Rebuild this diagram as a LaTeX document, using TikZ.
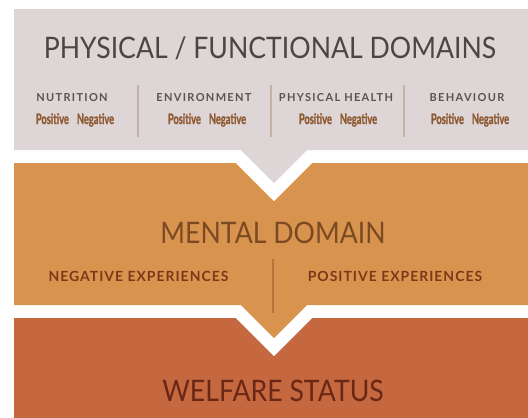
\documentclass[tikz,border=0pt]{standalone}
\usepackage{fontspec}
\usepackage{tikz}

\setmainfont{Lato}[FakeStretch=0.9]
\newfontfamily\capsfont{Lato}[LetterSpace=12]
\newfontfamily\expfont{Lato}[LetterSpace=7]
\newfontfamily\condfont{Lato}[FakeStretch=0.64, FakeBold=1.2]

\definecolor{physgrey}{HTML}{DED6D6}
\definecolor{mentorange}{HTML}{D8944F}
\definecolor{welfred}{HTML}{C5673F}
\definecolor{titlegrey}{HTML}{4D4446}
\definecolor{labelgrey}{HTML}{5A5153}
\definecolor{signbrown}{HTML}{8E5A32}
\definecolor{mentbrown}{HTML}{7B4A22}
\definecolor{expbrown}{HTML}{7A3A1A}
\definecolor{welfbrown}{HTML}{6A2715}
\definecolor{sepgrey}{HTML}{C2B2A2}
\definecolor{sepbrown}{HTML}{B8733A}

\begin{document}
\begin{tikzpicture}[x=1pt, y=-1pt,
		bigtitle/.style={anchor=base, inner sep=0pt, font=\fontsize{29.6}{30}\selectfont},
		domainlabel/.style={anchor=base, inner sep=0pt, font=\capsfont\bfseries\fontsize{11}{11}\selectfont, text=labelgrey},
		signlabel/.style={anchor=base, inner sep=0pt, font=\condfont\bfseries\fontsize{14.5}{14.5}\selectfont, text=signbrown},
		explabel/.style={anchor=base, inner sep=0pt, font=\expfont\bfseries\fontsize{14}{14}\selectfont, text=expbrown}]
			\useasboundingbox (0, 0) rectangle (528, 418);
			\fill[white] (0, 0) rectangle (528, 418);

			\fill[welfred] (14, 318) -- (235.6, 318) -- (274, 356.4) -- (312.4, 318)
			-- (528, 318) -- (528, 418) -- (14, 418) -- cycle;
			\fill[mentorange] (14, 163) -- (235.6, 163) -- (274, 201.4) -- (312.4, 163)
			-- (528, 163) -- (528, 305) -- (307, 305) -- (274, 338) -- (241, 305) -- (14, 305) -- cycle;
			\fill[physgrey] (14, 9) -- (528, 9) -- (528, 150) -- (307, 150) -- (274, 183)
			-- (241, 150) -- (14, 150) -- cycle;

			\node[bigtitle, text=titlegrey] (phys) at (270, 58.3) {PHYSICAL / FUNCTIONAL DOMAINS};

			\node[domainlabel] (nutr) at (72, 101) {NUTRITION};
			\node[domainlabel] (env) at (204, 101) {ENVIRONMENT};
			\node[domainlabel] (health) at (336, 101) {PHYSICAL HEALTH};
			\node[domainlabel] (behav) at (467, 101) {BEHAVIOUR};

			\node[signlabel] (nutrsign) at (75, 124) {Positive\hspace{8pt}Negative};
			\node[signlabel] (envsign) at (207, 124) {Positive\hspace{8pt}Negative};
			\node[signlabel] (healthsign) at (338, 124) {Positive\hspace{8pt}Negative};
			\node[signlabel] (behavsign) at (470, 124) {Positive\hspace{8pt}Negative};

			\foreach \x/\name in {138/a, 271/b, 404/c} {
				\coordinate (sep\name top) at (\x, 85);
				\coordinate (sep\name bot) at (\x, 137);
				\draw[sepgrey, line width=1.2pt] (sep\name top) -- (sep\name bot);
			}

			\node[bigtitle, text=mentbrown] (mental) at (273, 243.3) {MENTAL DOMAIN};
			\node[explabel] (negexp) at (138.5, 281.7) {NEGATIVE EXPERIENCES};
			\node[explabel] (posexp) at (395, 281.7) {POSITIVE EXPERIENCES};
			\coordinate (menttop) at (273, 259);
			\coordinate (mentbot) at (273, 313);
			\draw[sepbrown, line width=1.2pt] (menttop) -- (mentbot);

			\node[bigtitle, text=welfbrown] (welfare) at (273, 401.7) {WELFARE STATUS};

		\end{tikzpicture}
\end{document}
